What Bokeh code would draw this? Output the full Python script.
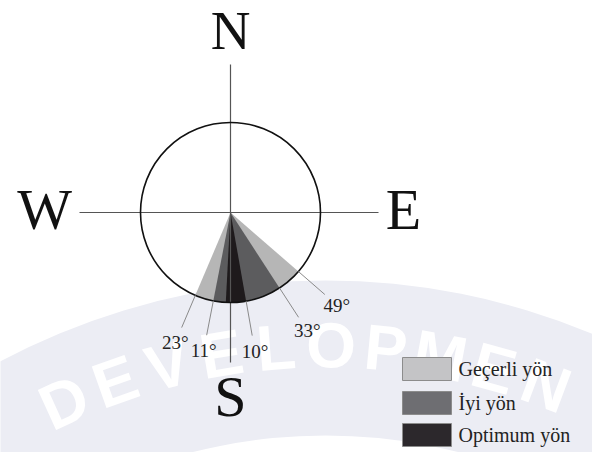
import math
from bokeh.plotting import figure
from bokeh.models import Range1d
from bokeh.core.properties import value
from bokeh.embed import file_html
from bokeh.resources import INLINE

# ---------------- data ----------------
sectors = ["Geçerli yön", "İyi yön", "Optimum yön"]
west_deg = [23, 11, 3]      # degrees west of south
east_deg = [49, 33, 10]     # degrees east of south
label_deg = [-23, -11, 10, 33, 49]   # signed (east positive) from south
label_text = ["23°", "11°", "10°", "33°", "49°"]
compass_text = ["N", "E", "S", "W"]
watermark_text = ["D", "E", "V", "E", "L", "O", "P", "M", "E", "N"]

# ---------------- styles ----------------
sector_colors = ["#b6b6b6", "#5c5c5e", "#1e1a1c"]
legend_colors = ["#c4c4c6", "#6e6e72", "#2c282c"]
SERIF = value("Liberation Serif")

IMG_H = 452
def Y(y_img):
    return IMG_H - y_img

rad = math.radians

p = figure(width=592, height=452, output_backend="svg", toolbar_location=None,
           x_range=Range1d(0, 592), y_range=Range1d(0, 452),
           x_axis_location=None, y_axis_location=None, min_border=0)
p.grid.visible = False
p.outline_line_color = None
p.background_fill_color = "white"
p.border_fill_color = "white"

# ---- watermark band and letters ----
wm_cx, wm_cy = 325, Y(975)
p.annulus(x=[wm_cx], y=[wm_cy], inner_radius=540, outer_radius=695,
          fill_color="#ecedf4", line_color=None)
wx, wy, wa = [], [], []
for i, _ in enumerate(watermark_text):
    phi = 114.5 - 5.0 * i
    wx.append(wm_cx + 630 * math.cos(rad(phi)))
    wy.append(wm_cy + 630 * math.sin(rad(phi)))
    wa.append(rad(phi - 90))
p.text(x=wx, y=wy, text=watermark_text, angle=wa,
       text_font=value("Liberation Sans"), text_font_style="bold",
       text_font_size=value("64px"), text_color="white",
       text_align="center", text_baseline="middle")

# ---- compass ----
cx, cy, R = 230, Y(212), 90

# wedges (start/end measured counter-clockwise from east)
for i in range(len(sectors)):
    p.wedge(x=[cx], y=[cy], radius=R,
            start_angle=rad(270 - west_deg[i]), end_angle=rad(270 + east_deg[i]),
            fill_color=sector_colors[i], line_color=None)

# axes of the compass
p.line(x=[cx, cx], y=[Y(64), Y(362)], line_color="#555555", line_width=1.2)
p.line(x=[79, 378], y=[cy, cy], line_color="#555555", line_width=1.2)

# circle
p.circle(x=[cx], y=[cy], radius=R, fill_color=None, line_color="#111111",
         line_width=1.6)

# leader lines and degree labels
lx, ly = [], []
tx, ty = [], []
for a in label_deg:
    th = rad(270 + a)
    lx.append([cx + R * math.cos(th), cx + 125 * math.cos(th)])
    ly.append([cy + R * math.sin(th), cy + 125 * math.sin(th)])
    tx.append(cx + 141 * math.cos(th))
    ty.append(cy + 141 * math.sin(th))
p.multi_line(xs=lx, ys=ly, line_color="#8a8a8a", line_width=1)
p.text(x=tx, y=ty, text=label_text, text_font=SERIF,
       text_font_size=value("19px"), text_color="#222222",
       text_align="center", text_baseline="middle")

# cardinal letters
p.text(x=[cx], y=[Y(30)], text=compass_text[:1], text_font=SERIF,
       text_font_size=value("55px"), text_color="#111111",
       text_align="center", text_baseline="middle")
p.text(x=[403, cx, 44], y=[Y(209), Y(396), Y(209)],
       text=compass_text[1:], text_font=SERIF, text_font_size=value("58px"),
       text_color="#111111", text_align="center", text_baseline="middle")

# ---- legend ----
ly_img = [368.5, 402.5, 434.5]
p.rect(x=[426.5] * 3, y=[Y(v) for v in ly_img], width=49, height=23,
       fill_color=legend_colors, line_color="#8c8c8c", line_width=1)
p.text(x=[458] * 3, y=[Y(v) for v in ly_img], text=sectors, text_font=SERIF,
       text_font_size=value("20px"), text_color="#222222",
       text_align="left", text_baseline="middle")

open("out.html", "w").write(file_html(p, INLINE))
